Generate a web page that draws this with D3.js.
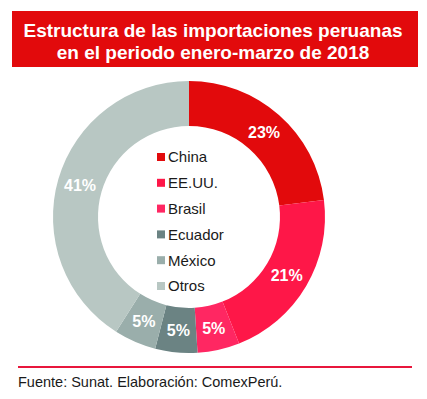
<!DOCTYPE html>
<html>
<head>
<meta charset="utf-8">
<script src="https://cdn.jsdelivr.net/npm/d3@7"></script>
<style>
  html, body { margin: 0; padding: 0; background: #fff; }
  svg { display: block; font-family: "Liberation Sans", Arial, sans-serif; }
</style>
</head>
<body>
<div class="chart"></div>
<script>
const WIDTH = 427;
const HEIGHT = 399;

// data
const countries = ["China", "EE.UU.", "Brasil", "Ecuador", "México", "Otros"];
const shares = [23, 21, 5, 5, 5, 41];
const titleLines = [
  "Estructura de las importaciones peruanas",
  "en el periodo enero-marzo de 2018",
];
const sourceNote = "Fuente: Sunat. Elaboración: ComexPerú.";

const COLORS = ["#e20a0c", "#fe1748", "#ff2762", "#6b8383", "#9aaeab", "#b8c7c3"];
const CX = 189;
const CY = 217;
const OUTER_R = 136;
const INNER_R = 91;

const svg = d3
  .select(".chart")
  .append("svg")
  .attr("width", WIDTH)
  .attr("height", HEIGHT);

// title banner
svg
  .append("rect")
  .attr("x", 12)
  .attr("y", 11)
  .attr("width", 406)
  .attr("height", 56)
  .style("fill", "#e20a0c");

svg
  .append("g")
  .selectAll()
  .data(titleLines)
  .join("text")
  .attr("x", 213)
  .attr("y", (d, i) => 37 + i * 22)
  .attr("text-anchor", "middle")
  .style("font-size", "19px")
  .style("font-weight", "bold")
  .style("fill", "#fff")
  .text((d) => d);

// donut
const pie = d3.pie().sort(null).value((d) => d);
const arcs = pie(shares);

const arc = d3.arc().innerRadius(INNER_R).outerRadius(OUTER_R);
const labelArc = d3
  .arc()
  .innerRadius((INNER_R + OUTER_R) / 2)
  .outerRadius((INNER_R + OUTER_R) / 2);

const donut = svg.append("g").attr("transform", `translate(${CX}, ${CY})`);

donut
  .selectAll()
  .data(arcs)
  .join("path")
  .attr("d", arc)
  .style("fill", (d, i) => COLORS[i]);

donut
  .selectAll()
  .data(arcs)
  .join("text")
  .attr("transform", (d) => `translate(${labelArc.centroid(d)})`)
  .attr("text-anchor", "middle")
  .attr("dy", "0.36em")
  .style("font-size", "16px")
  .style("font-weight", "bold")
  .style("fill", "#fff")
  .text((d) => `${d.data}%`);

// legend inside the hole
const legend = svg
  .append("g")
  .selectAll()
  .data(countries)
  .join("g")
  .attr("transform", (d, i) => `translate(157, ${157 + i * 25.8})`);

legend
  .append("rect")
  .attr("x", 0)
  .attr("y", -4)
  .attr("width", 8)
  .attr("height", 8)
  .style("fill", (d, i) => COLORS[i]);

legend
  .append("text")
  .attr("x", 11)
  .attr("dy", "0.36em")
  .style("font-size", "15px")
  .style("fill", "#1a1a1a")
  .text((d) => d);

// footer
svg
  .append("line")
  .attr("x1", 18)
  .attr("x2", 412)
  .attr("y1", 367)
  .attr("y2", 367)
  .style("stroke", "#e8173c")
  .style("stroke-width", 2);

svg
  .append("text")
  .attr("x", 18)
  .attr("y", 387)
  .style("font-size", "14.5px")
  .style("fill", "#1a1a1a")
  .text(sourceNote);
</script>
</body>
</html>
